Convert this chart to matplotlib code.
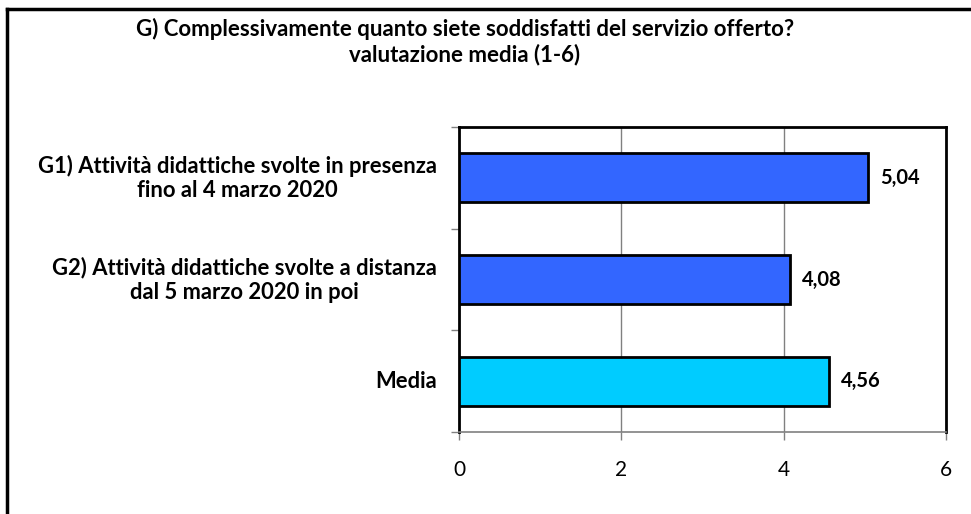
import matplotlib.pyplot as plt
from matplotlib.lines import Line2D

plt.rcParams['font.family'] = ['Lato', 'DejaVu Sans']

categorie = ['G1) Attività didattiche svolte in presenza\nfino al 4 marzo 2020',
             'G2) Attività didattiche svolte a distanza\ndal 5 marzo 2020 in poi',
             'Media']
valori = [5.04, 4.08, 4.56]
etichette = ['5,04', '4,08', '4,56']
colori = ['#3366FF', '#3366FF', '#00CCFF']
titolo = 'G) Complessivamente quanto siete soddisfatti del servizio offerto?\nvalutazione media (1-6)'

fig = plt.figure(figsize=(9.71, 5.14), dpi=100)
ax = fig.add_axes([459 / 971, 1 - 432 / 514, 487 / 971, 305 / 514])

pos = range(len(categorie))
ax.barh(pos, valori, height=0.48, color=colori, edgecolor='black', linewidth=2, zorder=3)
for p, v, e in zip(pos, valori, etichette):
    ax.text(v + 0.15, p, e, va='center', ha='left', fontsize=14.5, fontweight='bold')

ax.set_xlim(0, 6)
ax.set_ylim(2.5, -0.5)
ax.set_xticks([0, 2, 4, 6])
ax.set_xticklabels(['0', '2', '4', '6'], fontsize=15)
ax.set_yticks([-0.5, 0.5, 1.5, 2.5], minor=False)
ax.set_yticklabels([])
ax.tick_params(axis='y', length=6, color='#808080', width=1)
ax.tick_params(axis='x', length=6, color='#808080', width=1, pad=14)
ax.grid(axis='x', color='#808080', linewidth=1, zorder=0)

for p, c in zip(pos, categorie):
    ax.text(-0.27, p, c, ha='right', va='center', multialignment='center',
            fontsize=15.8, fontweight='bold', linespacing=1.2)

for s in ['top', 'right', 'left']:
    ax.spines[s].set_linewidth(2)
    ax.spines[s].set_color('black')
ax.spines['bottom'].set_color('#808080')
ax.spines['bottom'].set_linewidth(1.2)

fig.text(465 / 971, 1 - 42 / 514, titolo, ha='center', va='center',
         fontsize=16, fontweight='bold', linespacing=1.2)

# cornice esterna
fig.add_artist(Line2D([7 / 971, 1], [1 - 9 / 514, 1 - 9 / 514], transform=fig.transFigure,
                      color='black', linewidth=2.5))
fig.add_artist(Line2D([7 / 971, 7 / 971], [0, 1 - 9 / 514], transform=fig.transFigure,
                      color='black', linewidth=2.5))

fig.savefig('out.png', dpi=100)
